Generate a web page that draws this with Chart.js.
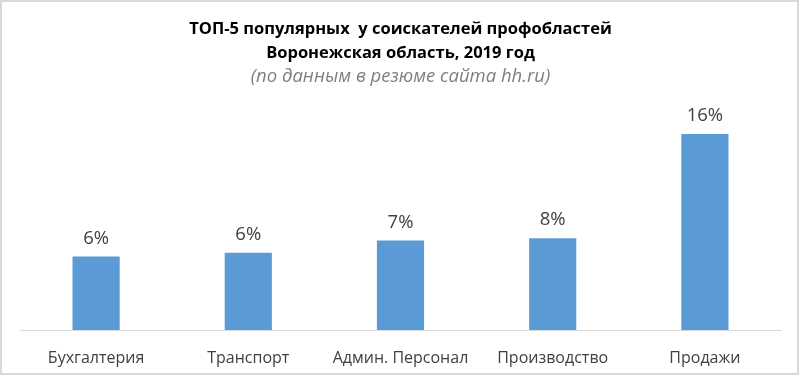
<!DOCTYPE html>
<html>
<head>
<meta charset="utf-8">
<script src="https://cdn.jsdelivr.net/npm/chart.js@4/dist/chart.umd.min.js"></script>
<style>
html,body{margin:0;padding:0;background:#fff;}
#wrap{width:800px;height:377px;position:relative;}
</style>
</head>
<body>
<div id="wrap"><canvas id="c" width="800" height="377"></canvas></div>
<script>
const categories = ["Бухгалтерия", "Транспорт", "Админ. Персонал", "Производство", "Продажи"];
const shares = [6.0, 6.3, 7.3, 7.5, 16.0];
const titleLines = ["ТОП-5 популярных  у соискателей профобластей", "Воронежская область, 2019 год"];
const subtitleText = "(по данным в резюме сайта hh.ru)";

const FONT = "'Open Sans', sans-serif";

const bgBorder = {
  id: 'bgBorder',
  beforeDraw(chart) {
    const ctx = chart.ctx;
    ctx.save();
    ctx.fillStyle = '#ffffff';
    ctx.fillRect(0, 0, chart.width, chart.height);
    ctx.restore();
  },
  afterDraw(chart) {
    const ctx = chart.ctx;
    ctx.save();
    ctx.strokeStyle = '#d9d9d9';
    ctx.lineWidth = 2;
    ctx.strokeRect(1, 1, chart.width - 3, chart.height - 4);
    ctx.restore();
  }
};

const valueLabels = {
  id: 'valueLabels',
  afterDatasetsDraw(chart) {
    const ctx = chart.ctx;
    const meta = chart.getDatasetMeta(0);
    ctx.save();
    ctx.fillStyle = '#404040';
    ctx.font = "18.5px " + FONT;
    ctx.textAlign = 'center';
    ctx.textBaseline = 'middle';
    meta.data.forEach((bar, i) => {
      const v = chart.data.datasets[0].data[i];
      ctx.fillText(Math.round(v) + '%', bar.x, bar.y - 18);
    });
    ctx.restore();
  }
};

new Chart(document.getElementById('c'), {
  type: 'bar',
  data: {
    labels: categories,
    datasets: [{
      data: shares,
      backgroundColor: '#5b9bd5',
      borderWidth: 0,
      categoryPercentage: 1,
      barPercentage: 0.31
    }]
  },
  options: {
    responsive: false,
    animation: false,
    devicePixelRatio: 1,
    layout: { padding: { left: 20, right: 19, top: 0, bottom: 0 } },
    plugins: {
      legend: { display: false },
      tooltip: { enabled: false },
      title: {
        display: true,
        text: titleLines,
        color: '#000000',
        font: { family: FONT, size: 16.5, weight: 'bold', lineHeight: 24 / 16.5 },
        padding: { top: 17, bottom: 0 }
      },
      subtitle: {
        display: true,
        text: subtitleText,
        color: '#7f7f7f',
        font: { family: FONT, size: 18.5, style: 'italic', lineHeight: 22 / 18.5 },
        padding: { top: 0.5, bottom: 22 }
      }
    },
    scales: {
      x: {
        grid: { display: false, drawTicks: false },
        border: { display: true, color: '#d9d9d9', width: 1 },
        ticks: { color: '#404040', font: { family: FONT, size: 16 }, padding: 18.5, maxRotation: 0, autoSkip: false },
        afterFit(scale) { scale.height = 47; }
      },
      y: {
        display: false,
        min: 0,
        max: 18
      }
    }
  },
  plugins: [bgBorder, valueLabels]
});
</script>
</body>
</html>
